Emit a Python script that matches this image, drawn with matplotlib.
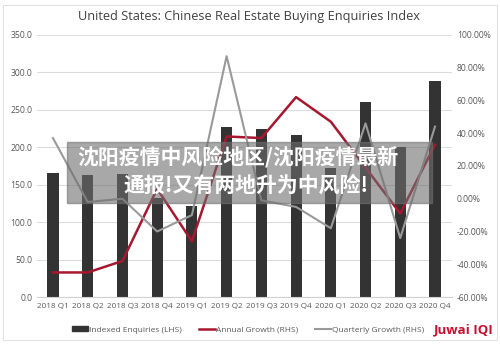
import matplotlib
matplotlib.use("Agg")
import matplotlib.pyplot as plt
from matplotlib.patches import Rectangle
from matplotlib.lines import Line2D
from matplotlib.patches import Patch

quarters = ["2018 Q1", "2018 Q2", "2018 Q3", "2018 Q4", "2019 Q1", "2019 Q2",
            "2019 Q3", "2019 Q4", "2020 Q1", "2020 Q2", "2020 Q3", "2020 Q4"]
enquiries = [165, 163, 164, 132, 121, 227, 224, 216, 172, 260, 200, 289]
annual = [-45, -45, -38, 6, -26, 38, 37, 62, 47, 19, -9, 33]
quarterly = [37, -2, 0, -20, -10, 87, -1, -5, -18, 46, -24, 44]

plt.rcParams['font.family'] = ['Open Sans', 'DejaVu Sans']

fig = plt.figure(figsize=(5, 3.45), dpi=100)
ax = fig.add_axes([0.074, 0.139, 0.83, 0.760])
ax2 = ax.twinx()

x = list(range(len(quarters)))
ax.bar(x, enquiries, width=0.32, color="#333333", zorder=2)
ax2.plot(x, annual, color="#a8172f", lw=1.8, zorder=3)
ax2.plot(x, quarterly, color="#9a9a9a", lw=1.5, zorder=3)

ax.set_xlim(-0.46, 11.49)
ax.set_ylim(0, 350)
ax.set_yticks(range(0, 351, 50))
ax.set_yticklabels(["%.1f" % v for v in range(0, 351, 50)])
ax2.set_ylim(-60, 100)
ax2.set_yticks(range(-60, 101, 20))
ax2.set_yticklabels(["%.2f%%" % v for v in range(-60, 101, 20)])
ax.set_xticks(x)
ax.set_xticklabels(quarters)
ax.grid(axis="y", color="#dddddd", lw=0.8, zorder=0)
ax.set_axisbelow(True)

for a in (ax, ax2):
    for s in a.spines.values():
        s.set_visible(False)
    a.tick_params(length=0, labelsize=6.2, labelcolor="#595959")
ax.tick_params(axis="x", pad=4, labelsize=5.9)
ax.spines["bottom"].set_visible(True)
ax.spines["bottom"].set_color("#d0d0d0")

fig.text(0.497, 0.951, "United States: Chinese Real Estate Buying Enquiries Index",
         ha="center", va="center", fontsize=9.2, color="#404040")

handles = [Patch(color="#333333"),
           Line2D([], [], color="#a8172f", lw=1.8),
           Line2D([], [], color="#9a9a9a", lw=1.5)]
fig.legend(handles, ["Indexed Enquiries (LHS)", "Annual Growth (RHS)", "Quarterly Growth (RHS)"],
           loc="center", bbox_to_anchor=(0.496, 0.043), ncol=3, frameon=False,
           fontsize=6.0, labelcolor="#595959", handlelength=2.0, handleheight=0.5,
           handletextpad=0.1, columnspacing=2.0)

fig.text(0.928, 0.043, "Juwai IQI", ha="center", va="center", fontsize=9.5,
         color="#c8102e", fontweight="bold")

fig.patches.append(Rectangle((0.006, 0.014), 0.988, 0.972, transform=fig.transFigure,
                             fill=False, ec="#e0e0e0", lw=0.8))

# overlay banner
fig.patches.append(Rectangle((0.134, 0.412), 0.73, 0.177, transform=fig.transFigure,
                             color="#6e6e6e", alpha=0.6, zorder=5))
fig.text(0.475, 0.545, "沈阳疫情中风险地区/沈阳疫情最新", ha="center", va="center",
         fontsize=15, color="white", fontweight="bold", zorder=6,
         family=["Noto Sans CJK SC", "DejaVu Sans"])
fig.text(0.491, 0.464, "通报!又有两地升为中风险!", ha="center", va="center",
         fontsize=15, color="white", fontweight="bold", zorder=6,
         family=["Noto Sans CJK SC", "DejaVu Sans"])

fig.savefig("out.png", dpi=100, facecolor="white")
